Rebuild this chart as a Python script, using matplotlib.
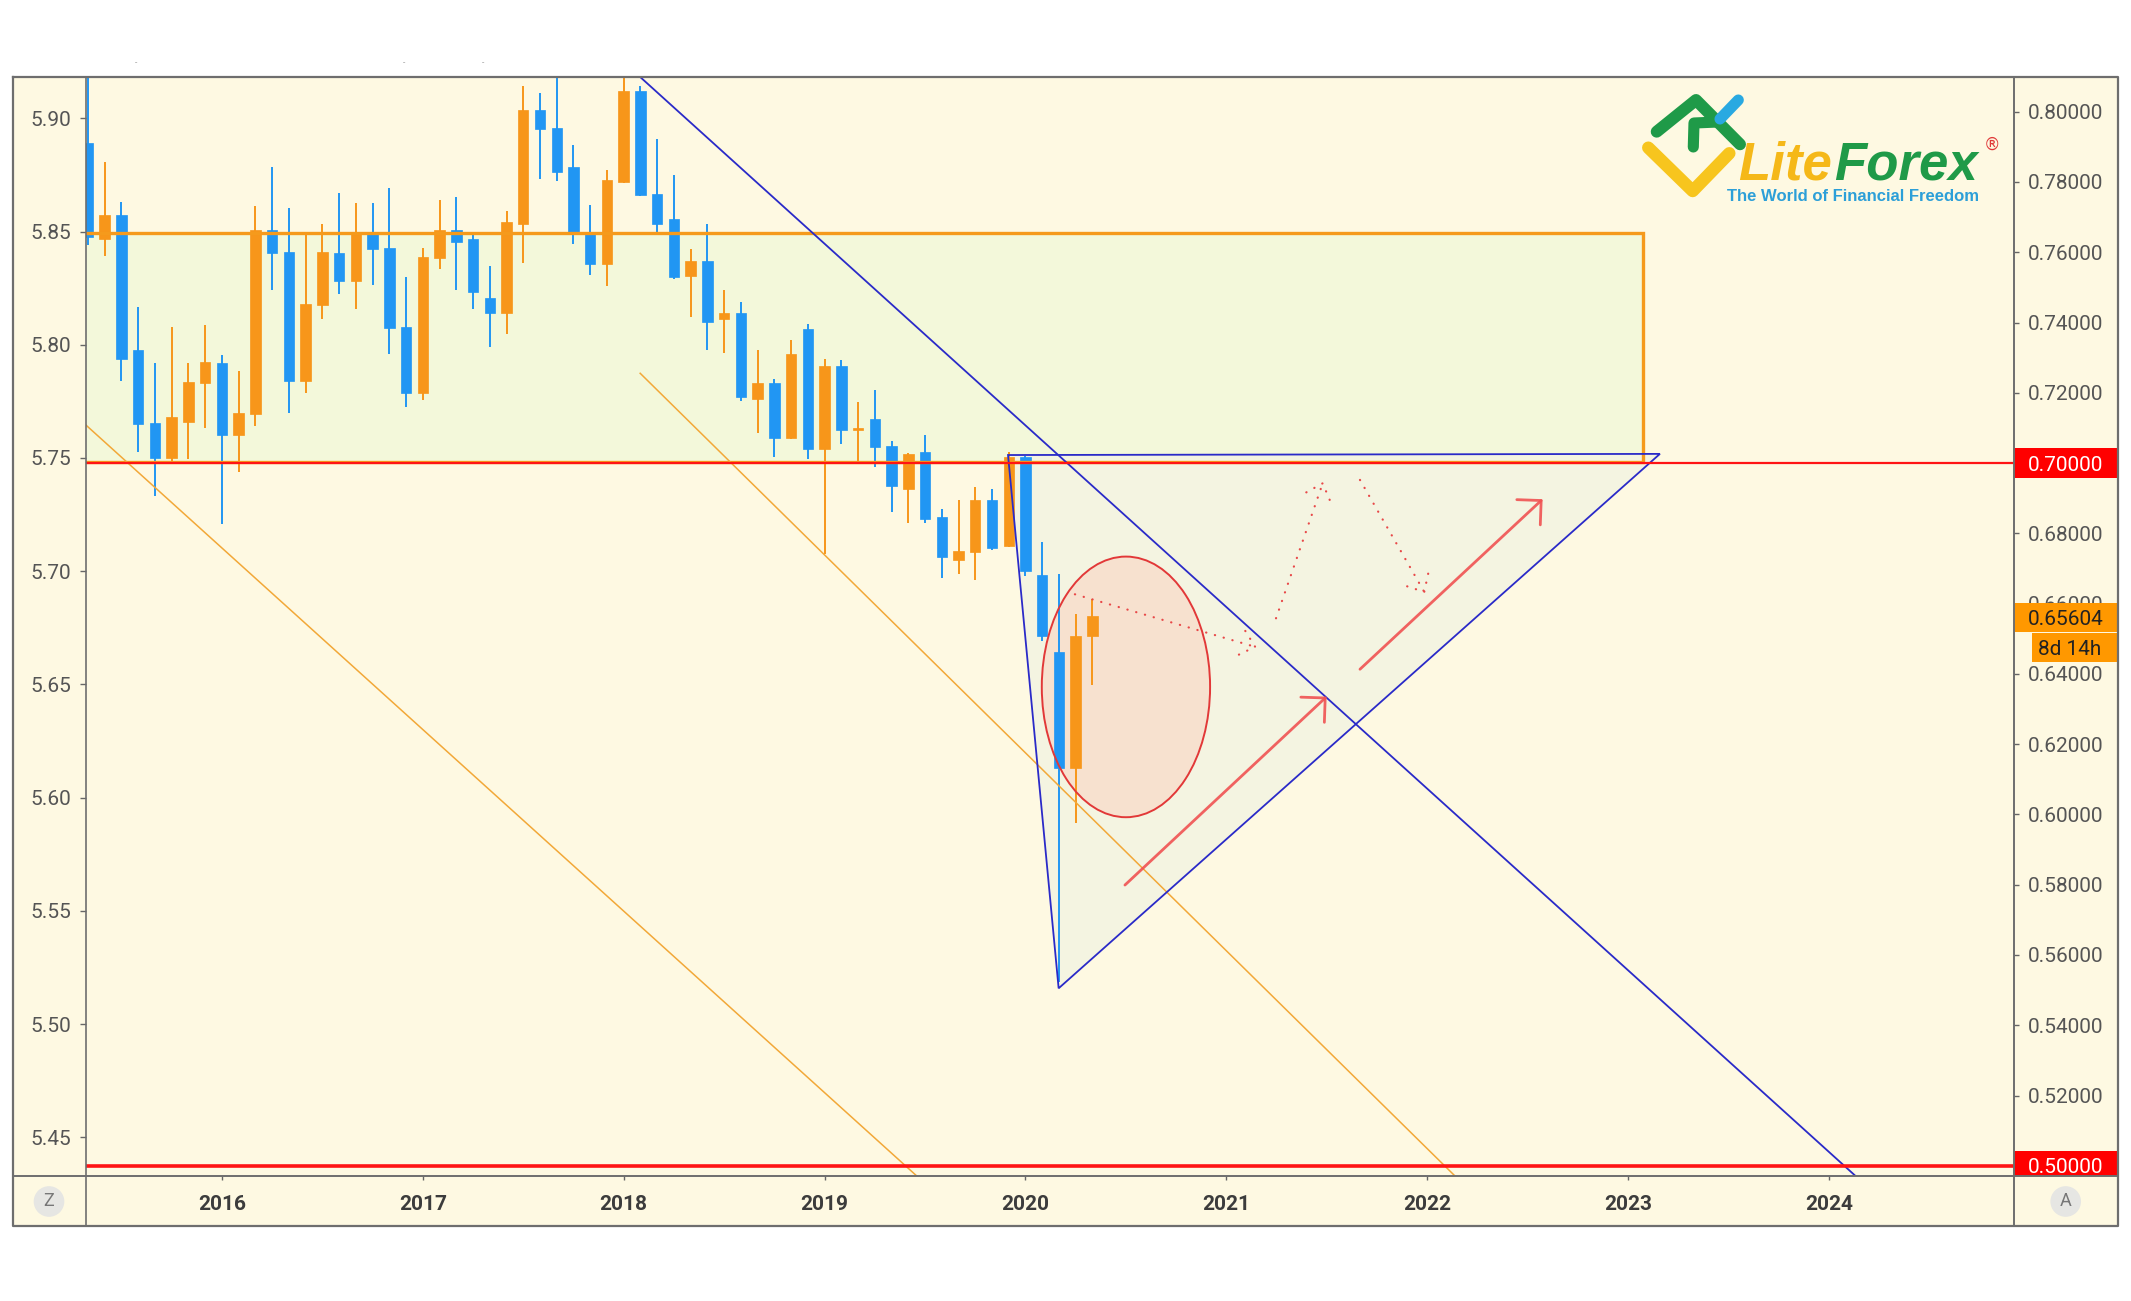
import numpy as np
import pandas as pd
import matplotlib
matplotlib.use('Agg')
import matplotlib.pyplot as plt
from matplotlib.patches import Rectangle, Polygon, Ellipse
from matplotlib.lines import Line2D
import matplotlib.transforms as mtransforms

# ------------------------------------------------------------------ data
# monthly candles (left-axis scale), first candle = May 2015
start_month = '2015-05'
opens = [5.8892, 5.8466, 5.8575, 5.7975, 5.7655, 5.7500, 5.7658, 5.7830,
         5.7919, 5.7603, 5.7695, 5.8506, 5.8410, 5.7838, 5.8177, 5.8403,
         5.8280, 5.8499, 5.8429, 5.8078, 5.7788, 5.8383, 5.8506, 5.8465,
         5.8208, 5.8142, 5.8535, 5.9037, 5.8956, 5.8783, 5.8499, 5.8358,
         5.8720, 5.9121, 5.8664, 5.8555, 5.8302, 5.8369, 5.8115, 5.8140,
         5.7761, 5.7830, 5.7588, 5.8071, 5.7540, 5.7904, 5.7624, 5.7670,
         5.7552, 5.7362, 5.7525, 5.7240, 5.7050, 5.7085, 5.7316, 5.7112,
         5.7506, 5.6984, 5.6644, 5.6131, 5.6714]
highs = [5.9300, 5.8805, 5.8631, 5.8167, 5.7919, 5.8078, 5.7919, 5.8086,
         5.7956, 5.7886, 5.8612, 5.8786, 5.8605, 5.8488, 5.8535, 5.8668,
         5.8624, 5.8624, 5.8693, 5.8299, 5.8429, 5.8639, 5.8653, 5.8491,
         5.8348, 5.8590, 5.9143, 5.9111, 5.9300, 5.8882, 5.8616, 5.8771,
         5.9200, 5.9143, 5.8909, 5.8749, 5.8425, 5.8535, 5.8240, 5.8189,
         5.7975, 5.7850, 5.8019, 5.8093, 5.7938, 5.7931, 5.7746, 5.7802,
         5.7574, 5.7523, 5.7600, 5.7276, 5.7316, 5.7370, 5.7364, 5.7525,
         5.7510, 5.7130, 5.6989, 5.6812, 5.6877]
lows = [5.8440, 5.8391, 5.7838, 5.7525, 5.7333, 5.7488, 5.7496, 5.7631,
        5.7208, 5.7437, 5.7643, 5.8240, 5.7699, 5.7788, 5.8112, 5.8226,
        5.8159, 5.8265, 5.7960, 5.7724, 5.7754, 5.8333, 5.8240, 5.8159,
        5.7990, 5.8049, 5.8363, 5.8734, 5.8723, 5.8447, 5.8307, 5.8258,
        5.8715, 5.8655, 5.8491, 5.8292, 5.8122, 5.7975, 5.7963, 5.7751,
        5.7611, 5.7503, 5.7585, 5.7496, 5.7075, 5.7562, 5.7488, 5.7459,
        5.7260, 5.7215, 5.7215, 5.6972, 5.6988, 5.6962, 5.7094, 5.7108,
        5.6979, 5.6692, 5.5185, 5.5888, 5.6497]
closes = [5.8476, 5.8575, 5.7935, 5.7650, 5.7500, 5.7683, 5.7835, 5.7926,
          5.7603, 5.7698, 5.8506, 5.8406, 5.7838, 5.8181, 5.8410, 5.8280,
          5.8499, 5.8425, 5.8074, 5.7788, 5.8388, 5.8506, 5.8454, 5.8233,
          5.8142, 5.8540, 5.9037, 5.8951, 5.8764, 5.8491, 5.8358, 5.8727,
          5.9121, 5.8661, 5.8535, 5.8299, 5.8369, 5.8100, 5.8140, 5.7768,
          5.7830, 5.7588, 5.7960, 5.7540, 5.7904, 5.7624, 5.7628, 5.7547,
          5.7378, 5.7516, 5.7230, 5.7063, 5.7087, 5.7316, 5.7104, 5.7503,
          5.7001, 5.6714, 5.6131, 5.6714, 5.6800]

left_ticks = [5.45, 5.50, 5.55, 5.60, 5.65, 5.70, 5.75, 5.80, 5.85, 5.90]
right_ticks = [0.50, 0.52, 0.54, 0.56, 0.58, 0.60, 0.62, 0.64, 0.66, 0.68,
               0.70, 0.72, 0.74, 0.76, 0.78, 0.80]
year_ticks = [2016, 2017, 2018, 2019, 2020, 2021, 2022, 2023, 2024]

# price levels (right axis)
level_070 = 0.70
level_050 = 0.50
last_price = 0.65604
countdown = '8d 14h'

# drawings (x in years, y in left-axis units)
zone_x = [2015.0, 2023.074]
zone_y = [5.7484, 5.8492]
blue_trend_x = [2018.08, 2024.132]
blue_trend_y = [5.9184, 5.4329]
orange_a_x = [2015.25, 2019.459]
orange_a_y = [5.7704, 5.4329]
orange_b_x = [2018.082, 2022.138]
orange_b_y = [5.7874, 5.4329]
triangle_x = [2019.913, 2023.158, 2020.165]
triangle_y = [5.7513, 5.7518, 5.5158]
ellipse_c = (2020.500, 5.6489)
ellipse_wh = (0.8377, 0.1151)
solid_arrows = [((2020.495, 5.5614), (2021.499, 5.6446)),
                ((2021.665, 5.6567), (2022.574, 5.7318))]
dotted_arrows = [((2020.246, 5.6898), (2021.151, 5.6664)),
                 ((2021.247, 5.6792), (2021.482, 5.7395)),
                 ((2021.665, 5.7403), (2021.989, 5.6902))]

# ------------------------------------------------------------------ style
W, H = 2131, 1301
CREAM = '#fef9e2'
ZONE = '#f3f8da'
TRI = '#f4f4e1'
BLUE = '#2196f3'
ORANGE = '#f7961a'
ORANGE_LINE = '#f59a1c'
THIN_ORANGE = '#f2a838'
TREND_BLUE = '#2a2ac8'
RED = '#ff1414'
ARROW_RED = '#f05252'
FRAME = '#6e6e6e'
TXT = '#555555'

plt.rcParams['font.family'] = ['Roboto', 'DejaVu Sans']

fig = plt.figure(figsize=(W / 100, H / 100), dpi=100, facecolor='white')


def fxf(px):
    return px / W


def fyf(py):
    return 1 - py / H


X0, X1, Y0, Y1 = 85.7, 2013.5, 77.0, 1176.0
OX0, OX1, OY1 = 12.5, 2118.0, 1225.7

fig.add_artist(Rectangle((fxf(OX0), fyf(OY1)), fxf(OX1) - fxf(OX0),
                         fyf(Y0) - fyf(OY1), transform=fig.transFigure,
                         facecolor=CREAM, edgecolor='none', zorder=-10))

ax = fig.add_axes([fxf(X0), fyf(Y1), fxf(X1) - fxf(X0), fyf(Y0) - fyf(Y1)])
ax.set_facecolor(CREAM)
for s in ax.spines.values():
    s.set_visible(False)
ax.set_xlim(2015.322, 2024.918)
ax.set_ylim(5.43291, 5.91824)

ax2 = ax.twinx()
ax2.set_ylim(0.49710, 0.80988)
for s in ax2.spines.values():
    s.set_visible(False)

# ------------------------------------------------------------------ zone / shapes
ax.add_patch(Rectangle((zone_x[0], zone_y[0]), zone_x[1] - zone_x[0],
                       zone_y[1] - zone_y[0], facecolor=ZONE,
                       edgecolor='none', zorder=0.5))
ax.add_patch(Rectangle((zone_x[0], zone_y[0]), zone_x[1] - zone_x[0],
                       zone_y[1] - zone_y[0], fill=False,
                       edgecolor=ORANGE_LINE, lw=2.4, zorder=3))

tri = np.column_stack([triangle_x, triangle_y])
ax.add_patch(Polygon(tri, closed=True, facecolor=TRI, edgecolor='none',
                     zorder=0.6))
ax.add_patch(Polygon(tri, closed=True, fill=False, edgecolor=TREND_BLUE,
                     lw=1.3, zorder=3.5))

ax.add_patch(Ellipse(ellipse_c, ellipse_wh[0], ellipse_wh[1],
                     facecolor='#f7e1cf', edgecolor='none', zorder=0.8))
ax.add_patch(Ellipse(ellipse_c, ellipse_wh[0], ellipse_wh[1], fill=False,
                     edgecolor='#e23838', lw=1.4, zorder=3.6))

# ------------------------------------------------------------------ candles
months = pd.period_range(start_month, periods=len(opens), freq='M')
xpos = np.asarray(months.year + (months.month - 1) / 12.0, dtype=float)
o, h, l, c = map(np.asarray, (opens, highs, lows, closes))
col = np.where(c >= o, ORANGE, BLUE)
ax.vlines(xpos, l, h, colors=col, lw=1.4, zorder=2)
ax.bar(xpos, np.maximum(np.abs(c - o), 0.0008), bottom=np.minimum(o, c),
       width=0.052, color=col, edgecolor=col, linewidth=0.5, zorder=2.1)

# ------------------------------------------------------------------ lines
ax.plot(orange_a_x, orange_a_y, color=THIN_ORANGE, lw=1.1, zorder=3)
ax.plot(orange_b_x, orange_b_y, color=THIN_ORANGE, lw=1.1, zorder=3)
ax.plot(blue_trend_x, blue_trend_y, color=TREND_BLUE, lw=1.3, zorder=3.5)

for start, tip in solid_arrows:
    ax.annotate('', xy=tip, xytext=start, zorder=4,
                arrowprops=dict(arrowstyle='->,head_length=0.62,head_width=0.62',
                                color=ARROW_RED, lw=2.0, shrinkA=0, shrinkB=0,
                                mutation_scale=20, alpha=0.9))
for start, tip in dotted_arrows:
    ax.annotate('', xy=tip, xytext=start, zorder=4,
                arrowprops=dict(arrowstyle='->,head_length=0.5,head_width=0.45',
                                color='#e84848', lw=1.6, shrinkA=0, shrinkB=0,
                                mutation_scale=20, linestyle=(0, (0.1, 4.0)),
                                capstyle='round'))

# horizontal levels on price axis
ax2.axhline(level_070, color=RED, lw=1.6, zorder=3)
ax2.axhline(level_050, color=RED, lw=2.6, zorder=3)

# ------------------------------------------------------------------ ticks
ax.set_yticks(left_ticks)
ax.set_yticklabels([f'{v:.2f}' for v in left_ticks])
ax.set_xticks(year_ticks)
ax.set_xticklabels([str(v) for v in year_ticks])
ax2.set_yticks(right_ticks)
ax2.set_yticklabels([f'{v:.5f}' for v in right_ticks])

ax.tick_params(axis='y', left=True, right=False, labelleft=True,
               labelright=False, length=4.3, width=1, color='#666666',
               pad=6, labelsize=15, labelcolor=TXT)
ax.tick_params(axis='x', length=2.9, width=1, color='#666666', pad=11,
               labelsize=15, labelcolor='#3c3c3c')
for t in ax.get_xticklabels():
    t.set_fontweight('bold')
ax2.tick_params(axis='y', right=True, left=False, labelright=True,
                labelleft=False, length=3.6, width=1, color='#666666',
                pad=6.8, labelsize=15, labelcolor=TXT)

# ------------------------------------------------------------------ price boxes
trans = mtransforms.blended_transform_factory(ax2.transAxes, ax2.transData)
bx0, bx1 = 1.0, 1.0537
lab_x = 1.00752
hh = 0.00416
ax2.add_patch(Rectangle((bx0, level_070 - hh), bx1 - bx0, 2 * hh,
                        transform=trans, facecolor='#ff0000', edgecolor='none',
                        clip_on=False, zorder=6))
ax2.text(lab_x, level_070, f'{level_070:.5f}', transform=trans, color='white',
         fontsize=15, va='center_baseline', ha='left', zorder=7, clip_on=False)
ax2.add_patch(Rectangle((bx0, 0.49710), bx1 - bx0, 0.50416 - 0.49710,
                        transform=trans, facecolor='#ff0000', edgecolor='none',
                        clip_on=False, zorder=6))
ax2.text(lab_x, level_050, f'{level_050:.5f}', transform=trans, color='white',
         fontsize=15, va='center_baseline', ha='left', zorder=7, clip_on=False)
ax2.add_patch(Rectangle((bx0, last_price - hh), bx1 - bx0, 2 * hh,
                        transform=trans, facecolor='#ff9800', edgecolor='none',
                        clip_on=False, zorder=6))
ax2.text(lab_x, last_price, f'{last_price:.5f}', transform=trans,
         color='#222222', fontsize=15, va='center_baseline', ha='left',
         zorder=7, clip_on=False)
ax2.add_patch(Rectangle((1.0096, 0.64330), bx1 - 1.0096, 0.65164 - 0.64330,
                        transform=trans, facecolor='#ff9800', edgecolor='none',
                        clip_on=False, zorder=6))
ax2.text(1.0293, 0.64747, countdown, transform=trans, color='#222222',
         fontsize=15, va='center_baseline', ha='center', zorder=7,
         clip_on=False)

# ------------------------------------------------------------------ frame
def fline(xs, ys, lw=1.6):
    fig.add_artist(Line2D([fxf(v) for v in xs], [fyf(v) for v in ys],
                          transform=fig.transFigure, color=FRAME, lw=lw,
                          zorder=10, solid_capstyle='projecting'))


fline([OX0, OX1, OX1, OX0, OX0], [Y0, Y0, OY1, OY1, Y0])
fline([X0, X0], [Y0, OY1], lw=1.2)
fline([X1, X1], [Y0, OY1], lw=1.4)
fline([OX0, OX1], [Y1, Y1], lw=1.4)

for ch, px in (('Z', 49.0), ('A', 2065.7)):
    fig.text(fxf(px), fyf(1201.5), ch, ha='center', va='center',
             fontsize=13, color='#777777', zorder=11,
             bbox=dict(boxstyle='circle,pad=0.35', facecolor='#e6e6e3',
                       edgecolor='none'))

for px in (136, 404, 483):
    fig.text(fxf(px), fyf(63), '-', ha='center', va='center', fontsize=6,
             color='#8a8a8a')

# ------------------------------------------------------------------ logo
axl = fig.add_axes([fxf(1640), fyf(215), fxf(2010) - fxf(1640),
                    fyf(85) - fyf(215)])
axl.set_xlim(0, 370)
axl.set_ylim(130, 0)
axl.axis('off')
axl.plot([8.3, 52.7, 89.3], [62.7, 106.0, 68.3], color='#f7c51e', lw=9,
         solid_capstyle='round', solid_joinstyle='round')
axl.plot([16.7, 56.0, 100.0], [46.7, 15.0, 59.3], color='#1f9a48', lw=8.6,
         solid_capstyle='round', solid_joinstyle='round')
axl.plot([53.3, 54.0, 78.0], [62.0, 38.0, 37.0], color='#1f9a48', lw=8.0,
         solid_capstyle='round', solid_joinstyle='round')
axl.plot([80.0, 98.3], [34.0, 15.0], color='#29a9e1', lw=8.0,
         solid_capstyle='round')
axl.text(98.3, 95.0, 'Lite', color='#f5b818', fontsize=38,
         fontweight='bold', fontstyle='italic', family='Liberation Sans',
         va='baseline', ha='left')
axl.text(194.0, 95.0, 'Forex', color='#1f9a48', fontsize=38,
         fontweight='bold', fontstyle='italic', family='Liberation Sans',
         va='baseline', ha='left')
axl.text(351.7, 60.0, '®', color='#e03a3a', fontsize=12,
         family='DejaVu Sans', va='center', ha='center')
axl.text(87.3, 116.0, 'The World of Financial Freedom', color='#2c9fd8',
         fontsize=12, fontweight='bold', family='Liberation Sans',
         va='baseline', ha='left')

fig.savefig('out.png', dpi=100, facecolor='white')
